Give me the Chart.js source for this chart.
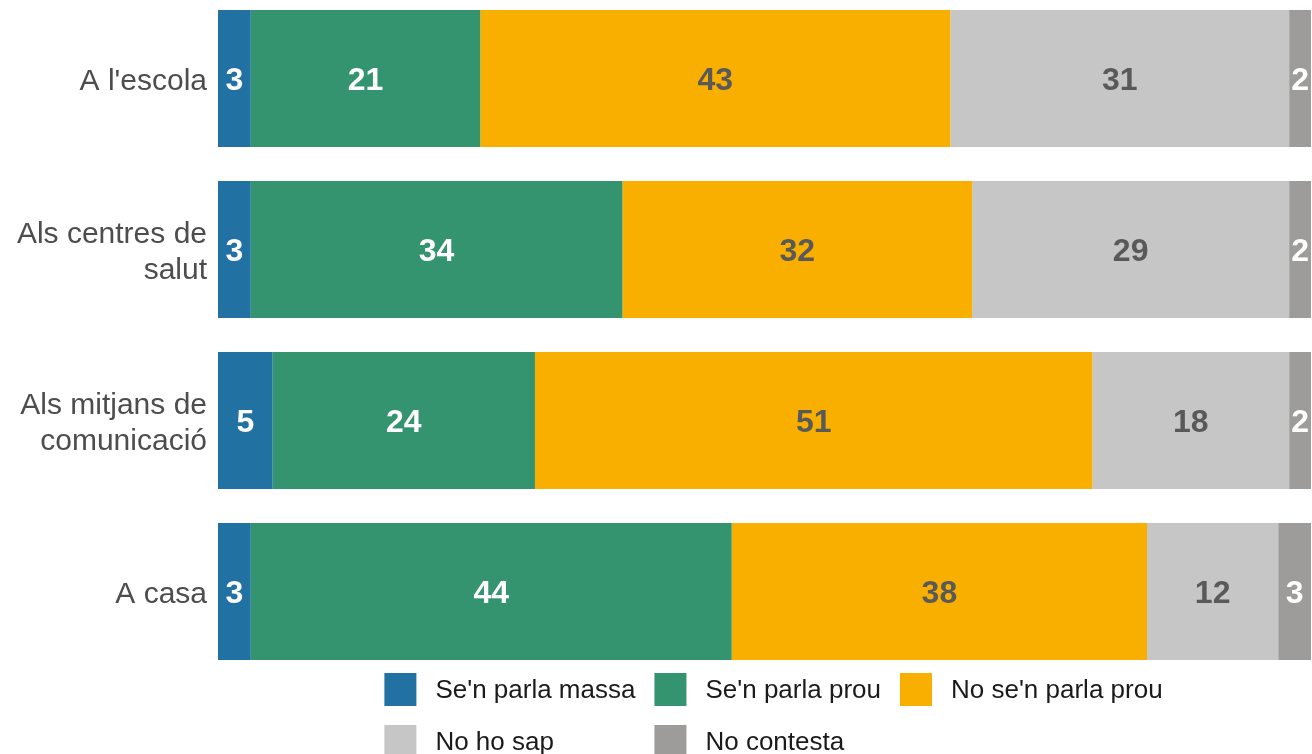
<!DOCTYPE html>
<html>
<head>
<meta charset="utf-8">
<script src="https://cdn.jsdelivr.net/npm/chart.js"></script>
<style>
  html, body { margin:0; padding:0; background:#fff; }
  #wrap { position:relative; width:1312px; height:754px; overflow:hidden; }
  #grafica { position:absolute; left:0; top:-7px; }
</style>
</head>
<body>
<div id="wrap"><canvas id="grafica" width="1312" height="761"></canvas></div>
<script>
// categories (top to bottom)
const categories = [
  "A l'escola",
  ["Als centres de", "salut"],
  ["Als mitjans de", "comunicació"],
  "A casa"
];

const seriesNames = ["Se'n parla massa", "Se'n parla prou", "No se'n parla prou", "No ho sap", "No contesta"];
const seriesColors = ["#2271a3", "#34946f", "#f9af00", "#c6c6c6", "#9d9c9a"];
const labelColors = ["#ffffff", "#ffffff", "#595959", "#595959", "#ffffff"];

const parlaMassa = [3, 3, 5, 3];
const parlaProu = [21, 34, 24, 44];
const noParlaProu = [43, 32, 51, 38];
const noHoSap = [31, 29, 18, 12];
const noContesta = [2, 2, 2, 3];

const seriesValues = [parlaMassa, parlaProu, noParlaProu, noHoSap, noContesta];
const FONT = "'Liberation Sans', Arial, sans-serif";

// valors dins de cada tram
const etiquetesPlugin = {
  id: "etiquetes",
  afterDatasetsDraw(chart) {
    const ctx = chart.ctx;
    ctx.save();
    ctx.font = "bold 32px " + FONT;
    ctx.textAlign = "center";
    ctx.textBaseline = "middle";
    chart.data.datasets.forEach((ds, i) => {
      const meta = chart.getDatasetMeta(i);
      meta.data.forEach((bar, j) => {
        const p = bar.getProps(["x", "y", "base"], true);
        ctx.fillStyle = labelColors[i];
        ctx.fillText(String(ds.data[j]), (p.x + p.base) / 2, p.y + 3);
      });
    });
    ctx.restore();
  }
};

// llegenda en graella (3 columnes)
const llegendaPlugin = {
  id: "llegenda",
  afterDraw(chart) {
    const ctx = chart.ctx;
    const area = chart.chartArea;
    const cols = 3, box = 32, gapText = 19, gapCol = 19, rowH = 52;
    ctx.save();
    ctx.font = "26px " + FONT;
    const colW = [];
    for (let c = 0; c < cols; c++) {
      let w = 0;
      for (let k = c; k < seriesNames.length; k += cols) w = Math.max(w, ctx.measureText(seriesNames[k]).width);
      colW.push(box + gapText + w);
    }
    const total = colW.reduce((a, b) => a + b, 0) + gapCol * (cols - 1);
    const x0 = (area.left + area.right) / 2 - total / 2 + 9;
    const y0 = area.bottom - 4;
    ctx.textBaseline = "middle";
    ctx.textAlign = "left";
    seriesNames.forEach((name, k) => {
      const c = k % cols, r = Math.floor(k / cols);
      let x = x0;
      for (let q = 0; q < c; q++) x += colW[q] + gapCol;
      const y = y0 + r * rowH;
      ctx.fillStyle = seriesColors[k];
      ctx.fillRect(x, y, box, 33);
      ctx.fillStyle = "#1a1a1a";
      ctx.fillText(name, x + box + gapText, y + 18);
    });
    ctx.restore();
  }
};

new Chart(document.getElementById("grafica"), {
  type: "bar",
  data: {
    labels: categories,
    datasets: seriesNames.map((n, i) => ({
      label: n,
      data: seriesValues[i],
      backgroundColor: seriesColors[i],
      borderWidth: 0,
      barPercentage: 0.8,
      categoryPercentage: 1
    }))
  },
  options: {
    indexAxis: "y",
    responsive: false,
    animation: false,
    layout: { padding: { top: 0, right: 1, bottom: 77, left: 0 } },
    plugins: { legend: { display: false }, tooltip: { enabled: false } },
    scales: {
      x: { stacked: true, min: 0, max: 100, display: false },
      y: {
        stacked: true,
        grid: { display: false, drawTicks: false },
        border: { display: false },
        ticks: { color: "#4d4d4d", font: { family: FONT, size: 30, lineHeight: 1.2 }, padding: 11, labelOffset: 3 },
        afterFit(scale) {
          scale.width = 218;
          scale.paddingTop = 0;
          scale.paddingBottom = 0;
        }
      }
    }
  },
  plugins: [etiquetesPlugin, llegendaPlugin]
});
</script>
</body>
</html>
